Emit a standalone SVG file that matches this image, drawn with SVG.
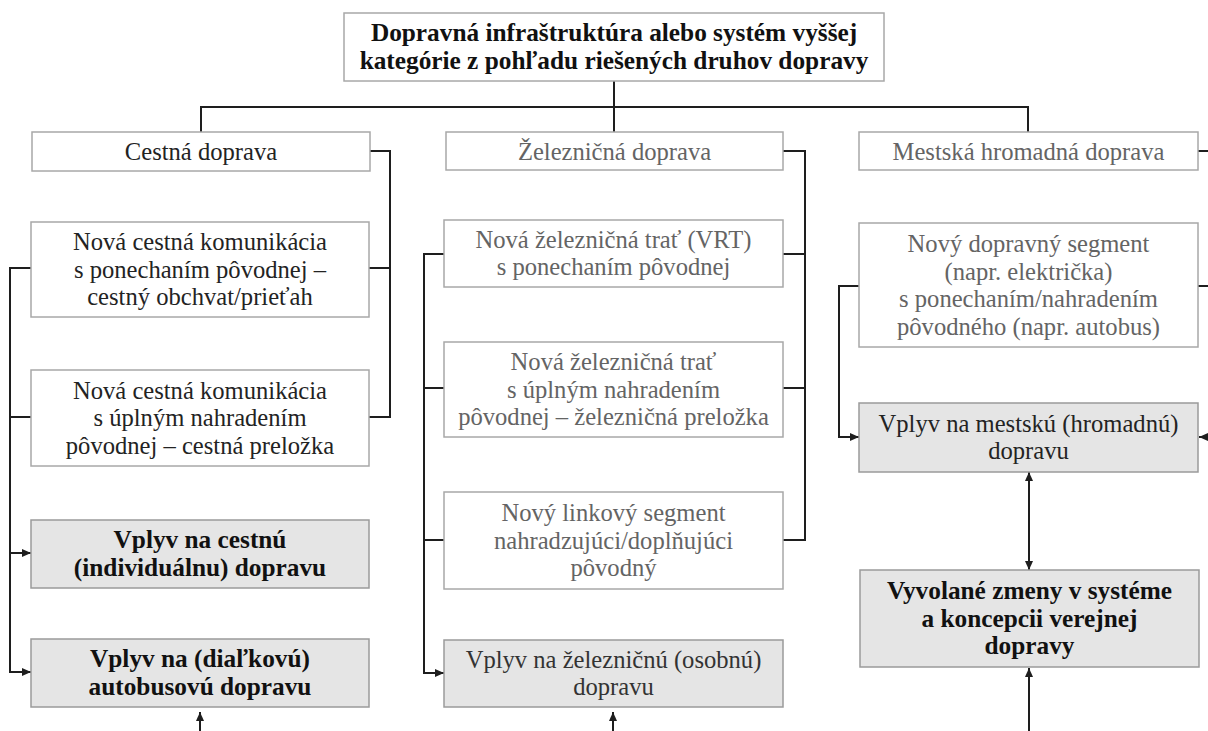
<svg xmlns="http://www.w3.org/2000/svg" width="1208" height="731" viewBox="0 0 1208 731">
  <defs>
    <marker id="arrow" markerUnits="userSpaceOnUse" markerWidth="9" markerHeight="8" refX="9" refY="4" orient="auto-start-reverse">
      <path d="M0,0 L9,4 L0,8 z" fill="#1e1e1e"/>
    </marker>
    <style>
      .box { fill: #ffffff; stroke: #a8a8a8; stroke-width: 1.5; }
      .shade { fill: #e5e5e5; stroke: #9a9a9a; stroke-width: 1.5; }
      text { font-family: "Liberation Serif", "DejaVu Serif", serif; font-size: 24.6px; text-anchor: middle; }
      .b { font-weight: bold; font-size: 25.3px; fill: #111111; }
      .dark { fill: #232323; }
      .mid { fill: #333333; }
      .soft { fill: #646464; }
      .wire { fill: none; stroke: #1e1e1e; stroke-width: 2; }
      .tip { marker-end: url(#arrow); }
      .both { marker-start: url(#arrow); marker-end: url(#arrow); }
    </style>
  </defs>
  <rect width="1208" height="731" fill="#ffffff"/>

  <!-- connectors -->
  <g id="connectors">
    <path class="wire" d="M614,81 V132 M201,132 V107 H1028 V132"/>
    <!-- road column -->
    <path class="wire" d="M370,151 H390 V417 H369 M369,268 H390"/>
    <path class="wire" d="M31,268 H10 V553 M31,417 H10"/>
    <path class="wire tip" d="M10,553 H31"/>
    <path class="wire tip" d="M10,553 V672 H31"/>
    <!-- rail column -->
    <path class="wire" d="M783,151 H805 V540 H783 M783,254 H805 M783,388 H805"/>
    <path class="wire" d="M444,254 H424 V540 M444,388 H424 M444,540 H424"/>
    <path class="wire tip" d="M424,540 V673 H444"/>
    <!-- urban transit column -->
    <path class="wire tip" d="M859,286 H839 V437 H859"/>
    <path class="wire" d="M1198,151 H1208 M1198,286 H1208"/>
    <path class="wire tip" d="M1208,437 H1199"/>
    <path class="wire both" d="M1029,472 V570"/>
    <!-- incoming from below -->
    <path class="wire tip" d="M200,731 V712"/>
    <path class="wire tip" d="M613,731 V712"/>
    <path class="wire tip" d="M1029,731 V668"/>
  </g>

  <g id="root">
    <rect class="box" x="344" y="13" width="540" height="68"/>
    <text class="b" x="614" y="41">Dopravná infraštruktúra alebo systém vyššej</text>
    <text class="b" x="614" y="69">kategórie z pohľadu riešených druhov dopravy</text>
  </g>

  <!-- road transport -->
  <g id="road">
    <rect class="box" x="32" y="132" width="338" height="39"/>
    <text class="dark" x="201" y="160">Cestná doprava</text>
  </g>
  <g id="road-bypass">
    <rect class="box" x="31" y="222" width="338" height="95"/>
    <text class="dark" x="200" y="250">Nová cestná komunikácia</text>
    <text class="dark" x="200" y="277.5">s ponechaním pôvodnej –</text>
    <text class="dark" x="200" y="305">cestný obchvat/prieťah</text>
  </g>
  <g id="road-relocation">
    <rect class="box" x="31" y="370" width="338" height="96"/>
    <text class="dark" x="200" y="398.5">Nová cestná komunikácia</text>
    <text class="dark" x="200" y="426">s úplným nahradením</text>
    <text class="dark" x="200" y="453.5">pôvodnej – cestná preložka</text>
  </g>
  <g id="road-impact">
    <rect class="shade" x="31" y="520" width="338" height="68"/>
    <text class="b" x="200" y="548">Vplyv na cestnú</text>
    <text class="b" x="200" y="576">(individuálnu) dopravu</text>
  </g>
  <g id="bus-impact">
    <rect class="shade" x="31" y="639" width="338" height="68"/>
    <text class="b" x="200" y="667">Vplyv na (diaľkovú)</text>
    <text class="b" x="200" y="695">autobusovú dopravu</text>
  </g>

  <!-- rail transport -->
  <g id="rail">
    <rect class="box" x="446" y="132" width="337" height="38"/>
    <text class="soft" x="614.5" y="159.5">Železničná doprava</text>
  </g>
  <g id="rail-hsr">
    <rect class="box" x="444" y="220" width="339" height="67"/>
    <text class="soft" x="613.5" y="247.5">Nová železničná trať (VRT)</text>
    <text class="soft" x="613.5" y="275">s ponechaním pôvodnej</text>
  </g>
  <g id="rail-relocation">
    <rect class="box" x="444" y="342" width="339" height="95"/>
    <text class="soft" x="613.5" y="370">Nová železničná trať</text>
    <text class="soft" x="613.5" y="397.5">s úplným nahradením</text>
    <text class="soft" x="613.5" y="425">pôvodnej – železničná preložka</text>
  </g>
  <g id="rail-line">
    <rect class="box" x="444" y="492" width="339" height="97"/>
    <text class="soft" x="613.5" y="521">Nový linkový segment</text>
    <text class="soft" x="613.5" y="548.5">nahradzujúci/doplňujúci</text>
    <text class="soft" x="613.5" y="576">pôvodný</text>
  </g>
  <g id="rail-impact">
    <rect class="shade" x="444" y="640" width="339" height="67"/>
    <text class="mid" x="613.5" y="667.5">Vplyv na železničnú (osobnú)</text>
    <text class="mid" x="613.5" y="695">dopravu</text>
  </g>

  <!-- urban public transport -->
  <g id="urban">
    <rect class="box" x="859" y="132" width="339" height="38"/>
    <text class="soft" x="1028.5" y="159.5">Mestská hromadná doprava</text>
  </g>
  <g id="urban-segment">
    <rect class="box" x="859" y="223" width="339" height="124"/>
    <text class="soft" x="1028.5" y="252">Nový dopravný segment</text>
    <text class="soft" x="1028.5" y="279.5">(napr. električka)</text>
    <text class="soft" x="1028.5" y="307">s ponechaním/nahradením</text>
    <text class="soft" x="1028.5" y="334.5">pôvodného (napr. autobus)</text>
  </g>
  <g id="urban-impact">
    <rect class="shade" x="859" y="403" width="339" height="69"/>
    <text class="dark" x="1028.5" y="431.5">Vplyv na mestskú (hromadnú)</text>
    <text class="dark" x="1028.5" y="459">dopravu</text>
  </g>
  <g id="system-changes">
    <rect class="shade" x="860" y="570" width="339" height="97"/>
    <text class="b" x="1029.5" y="599">Vyvolané zmeny v systéme</text>
    <text class="b" x="1029.5" y="626.5">a koncepcii verejnej</text>
    <text class="b" x="1029.5" y="654">dopravy</text>
  </g>
</svg>
